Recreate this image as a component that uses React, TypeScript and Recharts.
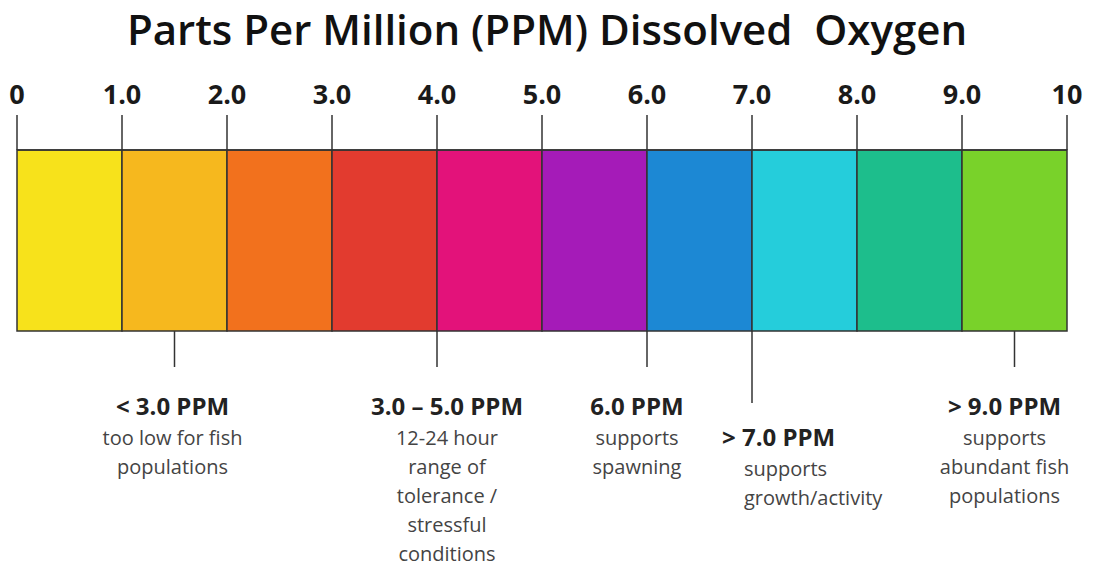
import React from 'react'
import { BarChart, Bar, XAxis, YAxis } from 'recharts'

const title = 'Parts Per Million (PPM) Dissolved  Oxygen'

const scaleTicks = [0, 1, 2, 3, 4, 5, 6, 7, 8, 9, 10]
const bandColors = [
  '#F7E21B', '#F6B81E', '#F2711D', '#E23B2F', '#E3127A',
  '#A51BB8', '#1C88D4', '#25CDDB', '#1DBE8C', '#79D22A'
]
// each band is 1 ppm wide
const bandWidths = [1, 1, 1, 1, 1, 1, 1, 1, 1, 1]

const notePositions = [1.5, 4, 6, 7, 9.5]
const noteHeadings = ['< 3.0 PPM', '3.0 – 5.0 PPM', '6.0 PPM', '> 7.0 PPM', '> 9.0 PPM']
const noteLines = [
  ['too low for fish', 'populations'],
  ['12-24 hour', 'range of', 'tolerance /', 'stressful', 'conditions'],
  ['supports', 'spawning'],
  ['supports', 'growth/activity'],
  ['supports', 'abundant fish', 'populations']
]

const row: Record<string, number | string> = { name: 'ppm' }
bandWidths.forEach((w, i) => { row['b' + i] = w })
const data = [row]

const fmt = (v: number) => (v === 0 || v === 10 ? String(v) : v.toFixed(1))

// layout of each callout: leader length, text offset, anchor, first row y
const noteStyle = [
  { len: 36, dx: -2, anchor: 'middle', head: 84, sub: 0 },
  { len: 36, dx: 10, anchor: 'middle', head: 84, sub: 0 },
  { len: 36, dx: -10, anchor: 'middle', head: 84, sub: 0 },
  { len: 72, dx: -30, anchor: 'start', head: 115, sub: 22 },
  { len: 36, dx: -10, anchor: 'middle', head: 84, sub: 0 }
]

const TopTick = (props: any) => {
  const { x, payload } = props
  return (
    <text x={x} y={104} textAnchor="middle" fontFamily="Open Sans" fontWeight={700}
      fontSize={27} fill="#1a1a1a">
      {fmt(payload.value)}
    </text>
  )
}

const NoteTick = (props: any) => {
  const { x, payload } = props
  const i = notePositions.indexOf(payload.value)
  if (i < 0) return null
  const s = noteStyle[i]
  const top = 331
  return (
    <g>
      <line x1={x} x2={x} y1={top} y2={top + s.len} stroke="#333" strokeWidth={1.5} />
      <text x={x + s.dx} y={top + s.head} textAnchor={s.anchor} fontFamily="Open Sans"
        fontWeight={700} fontSize={24} fill="#222">
        {noteHeadings[i]}
      </text>
      {noteLines[i].map((t, k) => (
        <text key={k} x={x + s.dx + s.sub} y={top + s.head + 30 + k * 29} textAnchor={s.anchor}
          fontFamily="Open Sans" fontSize={20} fill="#444">
          {t}
        </text>
      ))}
    </g>
  )
}

export default function App() {
  return (
    <div style={{ position: 'absolute', left: 0, top: 0, width: 1094, height: 568, background: '#fff' }}>
      <div style={{
        position: 'absolute', left: 0, top: 4, width: 1094, textAlign: 'center', whiteSpace: 'pre',
        fontFamily: 'Open Sans', fontWeight: 600, fontSize: 42, lineHeight: '50px', color: '#111'
      }}>
        {title}
      </div>
      <BarChart
        width={1094}
        height={568}
        data={data}
        layout="vertical"
        barCategoryGap={0}
        margin={{ top: 90, right: 27, bottom: 7, left: 17 }}
      >
        <XAxis xAxisId={0} type="number" orientation="top" domain={[0, 10]} ticks={scaleTicks}
          height={60} tickSize={35} tick={<TopTick />} interval={0}
          axisLine={{ stroke: '#333', strokeWidth: 1.5 }} tickLine={{ stroke: '#333', strokeWidth: 1.5 }} />
        <XAxis xAxisId="notes" type="number" orientation="bottom" domain={[0, 10]} ticks={notePositions}
          height={230} tickSize={0} tickMargin={0} interval={0} tick={<NoteTick />}
          axisLine={false} tickLine={false} allowDataOverflow />
        <YAxis type="category" dataKey="name" hide width={0} />
        {bandColors.map((c, i) => (
          <Bar key={i} dataKey={'b' + i} stackId="a" xAxisId={0} fill={c}
            stroke="#333" strokeWidth={1.5} isAnimationActive={false} />
        ))}
      </BarChart>
    </div>
  )
}
